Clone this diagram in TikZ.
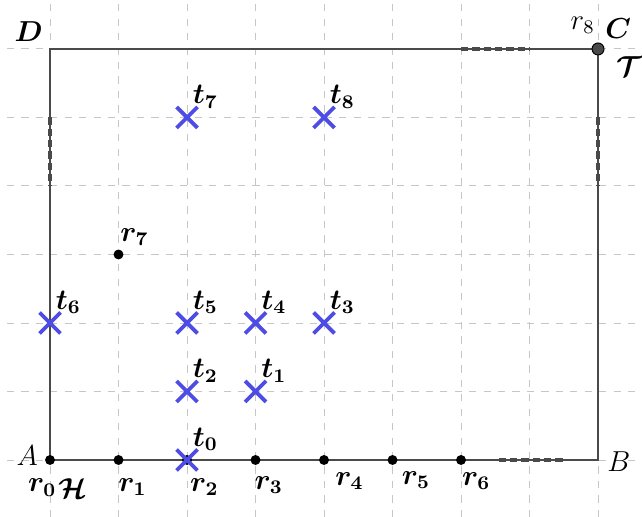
\documentclass[tikz,border=0pt]{standalone}
\usepackage{amsmath,amssymb,bm}
\usetikzlibrary{shapes.misc}
\definecolor{ink}{HTML}{4A4A4A}
\definecolor{tx}{HTML}{4D4DE6}
\colorlet{gridc}{gray!45}
\tikzset{pt/.style={circle,fill=black,inner sep=0pt,minimum size=1.45mm},
  goal/.style={circle,draw=black,fill=ink,inner sep=0pt,minimum size=1.75mm},
  tgt/.style={cross out,draw=tx,line width=1.6pt,inner sep=0pt,minimum size=2.5mm},
  border/.style={draw=ink,line width=.5pt},
  opening/.style={draw=ink,line width=1.3pt,dash pattern=on 3pt off 1.7pt},
  lbl/.style={inner sep=0pt,font=\large},
  tl/.style={lbl,anchor=south west},
  rl/.style={lbl,anchor=north west}}

\begin{document}
\begin{tikzpicture}
\useasboundingbox (-.73,-.832) rectangle (8.642,6.715);
% grid
\foreach \x in {0,...,8}{\draw[gridc,dashed] (\x,-.832)--(\x,6.715);}
\foreach \y in {0,...,6}{\draw[gridc,dashed] (-.63,\y)--(8.642,\y);}
% region
\coordinate (A) at (0,0);
\coordinate (B) at (8,0);
\coordinate (C) at (8,6);
\coordinate (D) at (0,6);
\draw[border] (A)--(B)--(C)--(D)--cycle;
\draw[opening] (6.55,0)--(7.5,0);
\draw[opening] (6,6)--(7,6);
\draw[opening] (8,5)--(8,4);
\draw[opening] (0,5)--(0,4);
\node[lbl,anchor=east] (lA) at (-.17,.06) {$A$};
\node[lbl,anchor=west] (lB) at (8.13,-.03) {$B$};
\node[lbl,anchor=south west] (lC) at (8.1,6.14) {$\bm{C}$};
\node[lbl,anchor=south east] (lD) at (-.1,6.1) {$\bm{D}$};
% robots
\foreach \i in {0,...,6}{\node[pt] (r\i) at (\i,0) {};}
\node[pt] (r7) at (1,3) {};
\node[goal] (r8) at (8,6) {};
\node[lbl,anchor=north east] (lr0) at (.1,-.27) {$\bm{r_0}$};
\node[lbl,anchor=north west] (lH) at (.11,-.27) {$\bm{\mathcal{H}}$};
\foreach \i/\dx/\dy in {1/-.01/.26,2/.04/.26,3/-.02/.23,4/.16/.18,5/.13/.16,6/.01/.18}{
 \node[rl] (lr\i) at (\i+\dx,-\dy) {$\bm{r_{\i}}$};
}
\node[tl] (lr7) at (1.02,3.12) {$\bm{r_7}$};
\node[lbl,anchor=south east] (lr8) at (7.96,6.22) {$r_8$};
\node[lbl,anchor=north west] (lT) at (8.26,5.9) {$\bm{\mathcal{T}}$};
% targets
\foreach \i/\x/\y in {0/2/0,1/3/1,2/2/1,3/4/2,4/3/2,5/2/2,6/0/2,7/2/5,8/4/5}{
 \node[tgt] (t\i) at (\x,\y) {};
 \node[tl] (lt\i) at (\x+.08,\y+.13) {$\bm{t_{\i}}$};
}
\end{tikzpicture}
\end{document}
